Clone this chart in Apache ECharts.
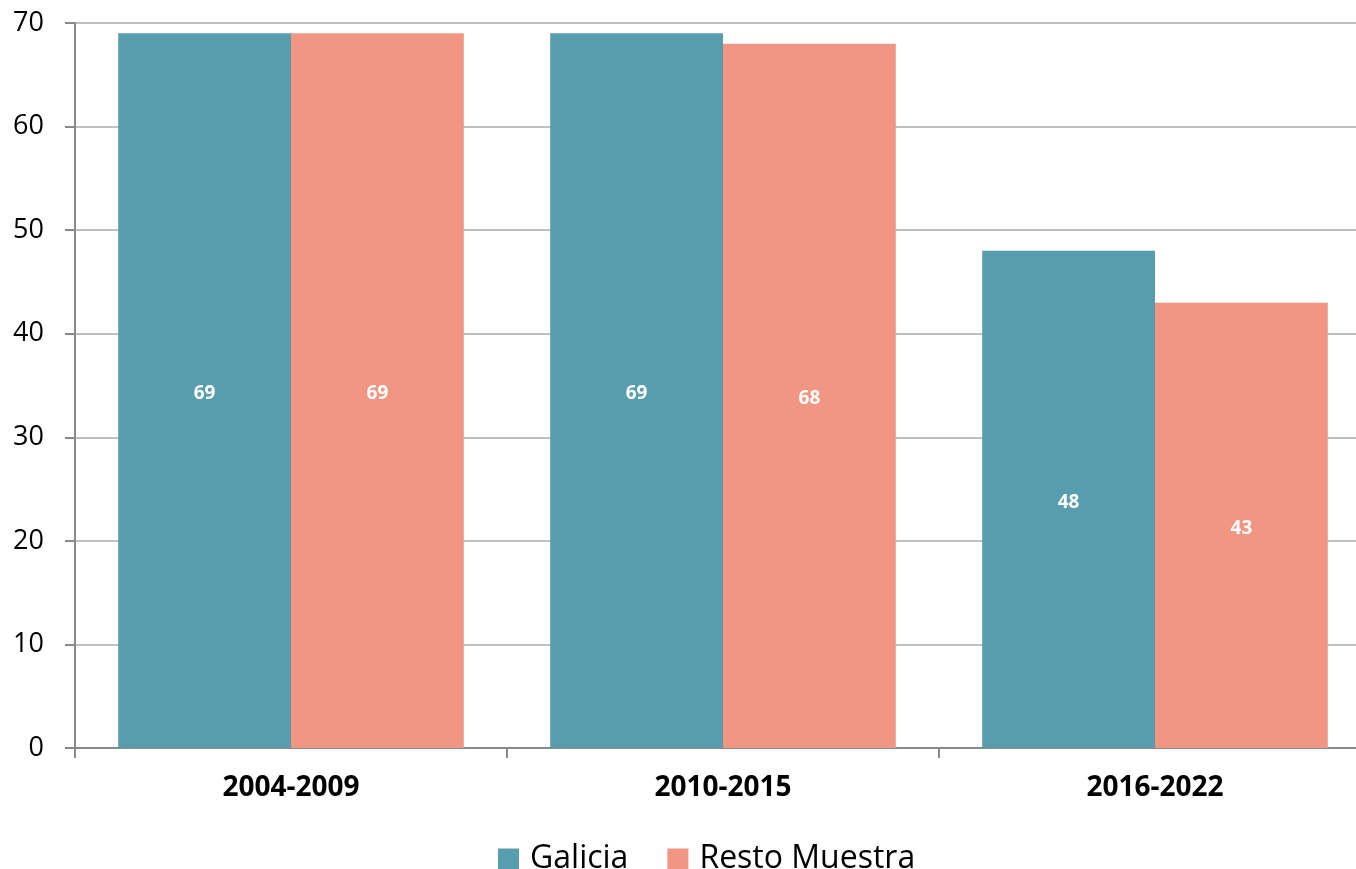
<!DOCTYPE html>
<html>
<head>
<meta charset="utf-8">
<script src="https://cdn.jsdelivr.net/npm/echarts@6/dist/echarts.min.js"></script>
<style>
  html, body { margin: 0; padding: 0; background: #fff; }
  #chart { width: 1356px; height: 869px; }
</style>
</head>
<body>
<div id="chart"></div>
<script>
const periods = ['2004-2009', '2010-2015', '2016-2022'];
const galicia = [69, 69, 48];
const restoMuestra = [69, 68, 43];
const yTicks = [0, 10, 20, 30, 40, 50, 60, 70];

const FONT = '"Open Sans", "Noto Sans", sans-serif';

const chart = echarts.init(document.getElementById('chart'));

function barLabel() {
  return {
    show: true,
    position: 'inside',
    offset: [0, 3],
    color: '#fff',
    fontFamily: FONT,
    fontWeight: 'bold',
    fontSize: 19
  };
}

chart.setOption({
  backgroundColor: '#fff',
  animation: false,
  // plot runs a bit past the right edge, like the source image
  grid: { left: 75, width: 1296, top: 23, bottom: 121, outerBoundsMode: 'none' },
  legend: {
    top: 838,
    left: 493,
    itemWidth: 21,
    itemHeight: 21,
    itemGap: 39,
    icon: 'rect',
    textStyle: { fontFamily: FONT, fontSize: 32, color: '#000', padding: [0, 0, 0, 6] },
    data: ['Galicia', 'Resto Muestra']
  },
  xAxis: {
    type: 'category',
    data: periods,
    axisLine: { lineStyle: { color: '#898989', width: 2 } },
    axisTick: { show: true, length: 10, lineStyle: { color: '#898989', width: 2 } },
    axisLabel: { color: '#000', fontFamily: FONT, fontWeight: 'bold', fontSize: 28, margin: 26 }
  },
  yAxis: {
    type: 'value',
    min: yTicks[0],
    max: yTicks[yTicks.length - 1],
    interval: 10,
    axisLine: { show: true, lineStyle: { color: '#898989', width: 2 } },
    axisTick: { show: true, length: 10, lineStyle: { color: '#898989', width: 2 } },
    axisLabel: { color: '#000', fontFamily: FONT, fontSize: 27, margin: 31 },
    splitLine: { lineStyle: { color: '#c0c0c0', width: 2 } }
  },
  series: [
    {
      name: 'Galicia',
      type: 'bar',
      data: galicia,
      barGap: '0%',
      barCategoryGap: '20%',
      itemStyle: { color: '#589dae' },
      label: barLabel()
    },
    {
      name: 'Resto Muestra',
      type: 'bar',
      data: restoMuestra,
      itemStyle: { color: '#f19682' },
      label: barLabel()
    }
  ]
});
</script>
</body>
</html>
